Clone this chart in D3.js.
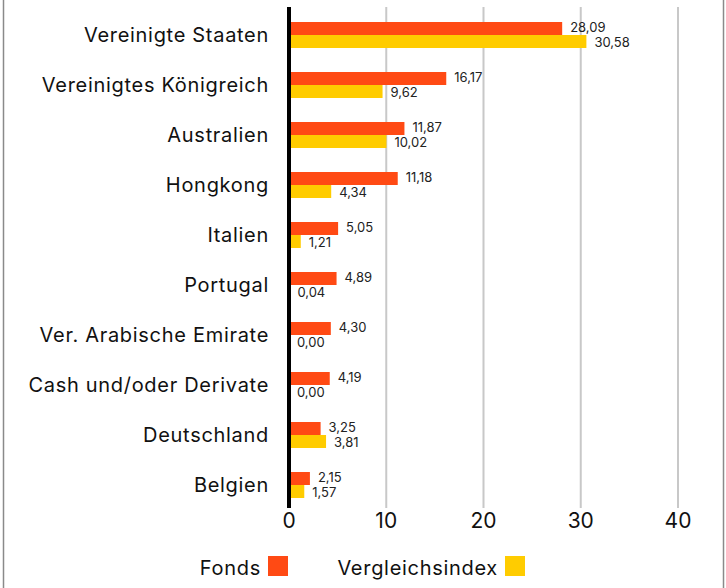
<!DOCTYPE html>
<html>
<head>
<meta charset="utf-8">
<script src="https://cdn.jsdelivr.net/npm/d3@7"></script>
<style>
  html, body { margin: 0; padding: 0; background: #fff; }
  svg { display: block; font-family: Inter, "Noto Sans", sans-serif; }
  .cats text, .legend text { letter-spacing: 0.7px; }
</style>
</head>
<body>
<div id="chart"></div>
<script>
// data
const categories = [
	'Vereinigte Staaten', 'Vereinigtes Königreich', 'Australien', 'Hongkong', 'Italien',
	'Portugal', 'Ver. Arabische Emirate', 'Cash und/oder Derivate', 'Deutschland', 'Belgien'
];
const fonds = [28.09, 16.17, 11.87, 11.18, 5.05, 4.89, 4.30, 4.19, 3.25, 2.15];
const vergleichsindex = [30.58, 9.62, 10.02, 4.34, 1.21, 0.04, 0.00, 0.00, 3.81, 1.57];
const seriesNames = ['Fonds', 'Vergleichsindex'];
const xTicks = [0, 10, 20, 30, 40];

const colors = { Fonds: '#ff4a14', Vergleichsindex: '#ffcc00' };

const width = 726, height = 588;
const svg = d3.select('#chart').append('svg')
	.attr('width', width)
	.attr('height', height);

// frame lines left / right
svg.append('line').attr('x1', 3.5).attr('x2', 3.5).attr('y1', 0).attr('y2', height)
	.attr('stroke', '#8a8a8a').attr('stroke-width', 1.5);
svg.append('line').attr('x1', 723.5).attr('x2', 723.5).attr('y1', 0).attr('y2', height)
	.attr('stroke', '#8a8a8a').attr('stroke-width', 1.5);

const x = d3.scaleLinear().domain([0, 40]).range([289, 678]);
const y = d3.scaleBand().domain(categories).range([10, 510]).paddingInner(0.48).paddingOuter(0.24);
const ySub = d3.scaleBand().domain(seriesNames).range([0, y.bandwidth()]);

const de = d3.formatLocale({ decimal: ',', thousands: '.', grouping: [3], currency: ['', ' €'] });
const fmt = de.format('.2f');

// gridlines
svg.append('g').attr('class', 'grid')
	.selectAll('line')
	.data(xTicks.filter(d => d > 0))
	.join('line')
		.attr('x1', d => x(d)).attr('x2', d => x(d))
		.attr('y1', 7).attr('y2', 508)
		.attr('stroke', '#c8c8c8').attr('stroke-width', 2);

// tick labels
svg.append('g').attr('class', 'ticks')
	.selectAll('text')
	.data(xTicks)
	.join('text')
		.attr('x', d => x(d))
		.attr('y', 528)
		.attr('text-anchor', 'middle')
		.attr('font-size', 21)
		.attr('fill', '#111')
		.text(d => d);

const rows = categories.map((c, i) => ({
	name: c,
	values: [
		{ key: 'Fonds', value: fonds[i] },
		{ key: 'Vergleichsindex', value: vergleichsindex[i] }
	]
}));

const groups = svg.append('g').attr('class', 'bars')
	.selectAll('g')
	.data(rows)
	.join('g')
		.attr('transform', d => `translate(0,${y(d.name)})`);

groups.selectAll('rect')
	.data(d => d.values)
	.join('rect')
		.attr('x', x(0))
		.attr('y', d => ySub(d.key))
		.attr('width', d => x(d.value) - x(0))
		.attr('height', ySub.bandwidth())
		.attr('fill', d => colors[d.key]);

groups.selectAll('text.val')
	.data(d => d.values)
	.join('text')
		.attr('class', 'val')
		.attr('x', d => x(d.value) + 8)
		.attr('y', d => ySub(d.key) + ySub.bandwidth() / 2 + (d.key === 'Fonds' ? 3 : 5.5))
		.attr('font-size', 13)
		.attr('fill', '#222')
		.text(d => fmt(d.value));

// category labels
svg.append('g').attr('class', 'cats')
	.selectAll('text')
	.data(categories)
	.join('text')
		.attr('x', 269)
		.attr('y', d => y(d) + y.bandwidth() / 2 + 7)
		.attr('text-anchor', 'end')
		.attr('font-size', 20)
		.attr('fill', '#111')
		.text(d => d);

// zero line
svg.append('line')
	.attr('x1', x(0)).attr('x2', x(0))
	.attr('y1', 7).attr('y2', 508)
	.attr('stroke', '#000').attr('stroke-width', 4);

// legend
const legend = [
	{ key: 'Fonds', sx: 268 },
	{ key: 'Vergleichsindex', sx: 505 }
];
const lg = svg.append('g').attr('class', 'legend')
	.selectAll('g')
	.data(legend)
	.join('g');
lg.append('rect')
	.attr('x', d => d.sx).attr('y', 556)
	.attr('width', 20).attr('height', 20)
	.attr('fill', d => colors[d.key]);
lg.append('text')
	.attr('x', d => d.sx - 7)
	.attr('y', 575)
	.attr('text-anchor', 'end')
	.attr('font-size', 20)
	.attr('fill', '#111')
	.text(d => d.key);
</script>
</body>
</html>
